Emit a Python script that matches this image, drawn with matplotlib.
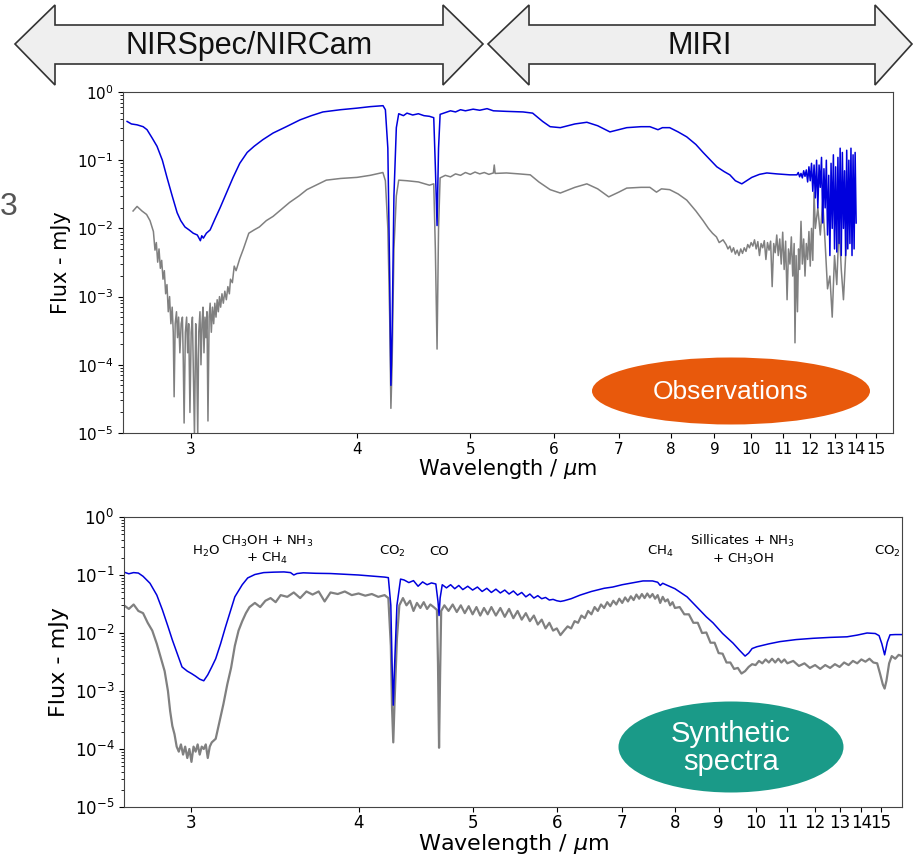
import matplotlib
matplotlib.use("Agg")
import matplotlib.pyplot as plt
import numpy as np
from matplotlib.patches import Polygon, Ellipse
from matplotlib.ticker import FixedLocator, NullLocator

# ---------------- data ----------------
# observations, blue (upper) spectrum
obs_blue_wl = [2.712, 2.73, 2.754, 2.78, 2.797, 2.82, 2.841, 2.865, 2.886, 2.91, 2.933, 2.95,
               2.97, 2.99, 3.01, 3.03, 3.045, 3.052, 3.06, 3.075, 3.094, 3.12, 3.145, 3.18,
               3.214, 3.25, 3.291, 3.33, 3.38, 3.44, 3.52, 3.606, 3.68, 3.757, 3.88, 4.00,
               4.10, 4.201, 4.22, 4.24, 4.255, 4.265, 4.275, 4.29, 4.31, 4.33, 4.37, 4.40,
               4.45, 4.50, 4.55, 4.60, 4.64, 4.655, 4.671, 4.685, 4.70, 4.75, 4.80, 4.85,
               4.90, 4.95, 5.03, 5.10, 5.18, 5.25, 5.40, 5.60, 5.72, 5.85, 5.95, 6.09,
               6.30, 6.48, 6.65, 6.85, 7.00, 7.14, 7.40, 7.57, 7.73, 7.82, 7.97, 8.15,
               8.34, 8.55, 8.72, 8.90, 9.06, 9.25, 9.40, 9.55, 9.73, 9.87, 10.02, 10.25,
               10.48, 10.8, 11.25, 11.50, 11.55, 11.60, 11.65, 11.70, 11.75, 11.80, 11.85,
               11.90, 11.95, 12.00, 12.05, 12.10, 12.15, 12.20, 12.25, 12.30, 12.35, 12.40,
               12.45, 12.50, 12.55, 12.60, 12.65, 12.70, 12.75, 12.80, 12.85, 12.90, 12.95,
               13.00, 13.05, 13.10, 13.15, 13.20, 13.25, 13.30, 13.35, 13.40, 13.45, 13.50,
               13.55, 13.60, 13.65, 13.70, 13.75, 13.80, 13.85, 13.90, 13.95, 14.00]
obs_blue_fx = [0.37, 0.34, 0.33, 0.31, 0.28, 0.21, 0.16, 0.10, 0.056, 0.030, 0.017, 0.013,
               0.0105, 0.0095, 0.0085, 0.0080, 0.0066, 0.0078, 0.0072, 0.0085, 0.0095, 0.014, 0.020, 0.034,
               0.056, 0.090, 0.13, 0.16, 0.20, 0.25, 0.31, 0.39, 0.45, 0.51, 0.55, 0.58,
               0.61, 0.63, 0.55, 0.15, 0.002, 5e-5, 0.0003, 0.03, 0.30, 0.48, 0.45, 0.49,
               0.46, 0.48, 0.45, 0.44, 0.42, 0.08, 0.011, 0.15, 0.47, 0.50, 0.53, 0.51,
               0.55, 0.53, 0.56, 0.54, 0.57, 0.53, 0.52, 0.51, 0.49, 0.37, 0.31, 0.30,
               0.34, 0.36, 0.32, 0.26, 0.28, 0.30, 0.31, 0.31, 0.28, 0.30, 0.30, 0.26,
               0.22, 0.17, 0.13, 0.10, 0.080, 0.068, 0.061, 0.050, 0.045, 0.050, 0.056, 0.062,
               0.065, 0.063, 0.061, 0.061, 0.066, 0.057, 0.064, 0.055, 0.070, 0.058, 0.072,
               0.048, 0.080, 0.050, 0.090, 0.035, 0.085, 0.028, 0.10, 0.020, 0.085, 0.040,
               0.11, 0.012, 0.075, 0.020, 0.10, 0.008, 0.060, 0.004, 0.090, 0.010, 0.12,
               0.005, 0.080, 0.0045, 0.11, 0.006, 0.15, 0.004, 0.13, 0.010, 0.070, 0.004,
               0.14, 0.005, 0.10, 0.006, 0.15, 0.004, 0.12, 0.005, 0.13, 0.012]

# observations, grey (lower) spectrum
obs_grey_wl = [2.737, 2.754, 2.775, 2.795, 2.81, 2.825, 2.832, 2.838, 2.844, 2.85, 2.856, 2.862,
               2.868, 2.874, 2.88, 2.886, 2.892, 2.898, 2.904, 2.91, 2.915, 2.919, 2.924, 2.93,
               2.935, 2.94, 2.946, 2.952, 2.958, 2.962, 2.966, 2.972, 2.978, 2.983, 2.988, 2.994,
               3.000, 3.006, 3.011, 3.016, 3.022, 3.027, 3.032, 3.037, 3.043, 3.048, 3.053, 3.058,
               3.063, 3.068, 3.073, 3.078, 3.083, 3.089, 3.094, 3.10, 3.106, 3.112, 3.118, 3.124,
               3.13, 3.136, 3.142, 3.148, 3.155, 3.162, 3.17, 3.178, 3.186, 3.194, 3.20, 3.21,
               3.22, 3.23, 3.25, 3.27, 3.30, 3.33, 3.36, 3.40, 3.44, 3.49, 3.54, 3.60,
               3.65, 3.70, 3.78, 3.88, 4.00, 4.10, 4.20, 4.22, 4.24, 4.255, 4.265, 4.275,
               4.29, 4.31, 4.33, 4.40, 4.50, 4.60, 4.64, 4.655, 4.671, 4.685, 4.70, 4.75,
               4.80, 4.85, 4.90, 4.95, 5.00, 5.05, 5.10, 5.15, 5.20, 5.25, 5.26, 5.27,
               5.40, 5.55, 5.69, 5.80, 5.95, 6.09, 6.30, 6.48, 6.65, 6.83, 7.00, 7.14,
               7.40, 7.57, 7.70, 7.80, 7.97, 8.15, 8.34, 8.55, 8.72, 8.85, 8.95, 9.05,
               9.12, 9.22, 9.30, 9.35, 9.40, 9.45, 9.50, 9.55, 9.60, 9.65, 9.70, 9.75,
               9.80, 9.85, 9.90, 9.95, 10.00, 10.05, 10.10, 10.15, 10.20, 10.25, 10.30, 10.35,
               10.40, 10.45, 10.50, 10.55, 10.60, 10.65, 10.70, 10.75, 10.80, 10.85, 10.90, 10.95,
               11.00, 11.05, 11.10, 11.15, 11.20, 11.25, 11.30, 11.35, 11.40, 11.43, 11.47, 11.52,
               11.56, 11.60, 11.65, 11.70, 11.75, 11.80, 11.85, 11.90, 11.95, 12.00, 12.05, 12.10,
               12.15, 12.20, 12.30, 12.40, 12.50, 12.60, 12.70, 12.80, 12.90, 13.00, 13.10, 13.20,
               13.30, 13.40, 13.50, 13.60, 13.70]
obs_grey_fx = [0.018, 0.021, 0.018, 0.016, 0.013, 0.0090, 0.0048, 0.0062, 0.0032, 0.0050, 0.0026, 0.0034,
               0.0018, 0.0024, 0.0011, 0.0015, 0.0006, 0.0010, 0.0004, 0.0007, 0.0003, 3.4e-5, 0.0004, 0.0006,
               0.00025, 0.0005, 0.00015, 0.0004, 0.0005, 0.00012, 1.4e-5, 0.0003, 0.0005, 0.00015, 0.0004, 2e-5,
               0.0003, 0.0005, 6e-5, 9e-6, 0.0004, 0.00012, 9e-6, 0.0003, 0.0006, 0.0001, 0.0004, 0.0007,
               0.00015, 0.0005, 0.00025, 0.0006, 1.5e-5, 0.0005, 0.0008, 0.0003, 0.0007, 0.0004, 0.0008, 0.0005,
               0.0009, 0.0006, 0.0010, 0.0007, 0.0011, 0.0008, 0.0012, 0.0009, 0.0014, 0.0011, 0.0018, 0.0016,
               0.0028, 0.0024, 0.0036, 0.0050, 0.0085, 0.0095, 0.0105, 0.013, 0.015, 0.019, 0.024, 0.030,
               0.037, 0.042, 0.051, 0.054, 0.056, 0.060, 0.066, 0.050, 0.010, 0.0005, 2.3e-5, 0.0001,
               0.005, 0.030, 0.051, 0.050, 0.048, 0.043, 0.045, 0.005, 1.7e-4, 0.010, 0.055, 0.060,
               0.057, 0.063, 0.060, 0.066, 0.062, 0.067, 0.063, 0.066, 0.062, 0.065, 0.085, 0.064,
               0.065, 0.063, 0.061, 0.048, 0.037, 0.033, 0.040, 0.045, 0.038, 0.029, 0.034, 0.039,
               0.040, 0.040, 0.034, 0.038, 0.037, 0.032, 0.026, 0.018, 0.013, 0.010, 0.0085, 0.0075,
               0.0062, 0.0068, 0.0058, 0.0050, 0.0055, 0.0045, 0.0052, 0.0042, 0.0048, 0.0040, 0.0050, 0.0043,
               0.0052, 0.0046, 0.0058, 0.0052, 0.0062, 0.0055, 0.0068, 0.0050, 0.0064, 0.0040, 0.0060, 0.0052,
               0.0066, 0.0035, 0.0062, 0.0048, 0.0065, 0.0014, 0.0060, 0.0044, 0.0080, 0.0040, 0.0070, 0.0030,
               0.0088, 0.0025, 0.0065, 0.0009, 0.0050, 0.0030, 0.0075, 0.0020, 0.0060, 0.00021, 0.0040, 0.0006,
               0.0050, 0.0025, 0.0127, 0.0030, 0.0070, 0.0020, 0.0060, 0.0035, 0.0090, 0.0028, 0.0100, 0.0034,
               0.034, 0.010, 0.020, 0.008, 0.025, 0.006, 0.0013, 0.0020, 0.0005, 0.004, 0.0015, 0.012,
               0.0025, 0.0009, 0.004, 0.012, 0.013]

# synthetic, blue (upper) spectrum
syn_blue_wl = [2.70, 2.72, 2.74, 2.76, 2.78, 2.81, 2.84, 2.865, 2.89, 2.91, 2.935, 2.955,
               2.98, 3.00, 3.02, 3.04, 3.06, 3.08, 3.10, 3.12, 3.145, 3.17, 3.20, 3.22,
               3.26, 3.29, 3.33, 3.38, 3.44, 3.50, 3.54, 3.56, 3.58, 3.62, 3.70, 3.80,
               3.90, 4.00, 4.10, 4.20, 4.23, 4.25, 4.26, 4.27, 4.28, 4.30, 4.33, 4.36,
               4.40, 4.44, 4.48, 4.52, 4.56, 4.60, 4.64, 4.66, 4.67, 4.68, 4.70, 4.74,
               4.78, 4.82, 4.86, 4.90, 4.95, 5.00, 5.05, 5.10, 5.15, 5.20, 5.25, 5.30,
               5.35, 5.40, 5.45, 5.50, 5.55, 5.60, 5.65, 5.70, 5.75, 5.80, 5.85, 5.90,
               5.95, 6.00, 6.05, 6.10, 6.20, 6.33, 6.50, 6.70, 6.84, 7.00, 7.20, 7.37,
               7.55, 7.65, 7.70, 7.75, 7.83, 8.00, 8.26, 8.50, 8.70, 8.86, 9.10, 9.37,
               9.55, 9.70, 9.80, 9.90, 10.04, 10.40, 10.75, 11.30, 11.92, 12.60, 13.33, 13.80,
               14.28, 14.70, 14.90, 15.05, 15.20, 15.35, 15.50, 15.80, 16.20]
syn_blue_fx = [0.112, 0.105, 0.110, 0.108, 0.095, 0.072, 0.045, 0.025, 0.013, 0.0076, 0.0042, 0.0026,
               0.0022, 0.0020, 0.0018, 0.0016, 0.0015, 0.0019, 0.0026, 0.0036, 0.0065, 0.0125, 0.026, 0.042,
               0.068, 0.089, 0.102, 0.110, 0.112, 0.113, 0.110, 0.100, 0.106, 0.109, 0.107, 0.106,
               0.103, 0.100, 0.096, 0.092, 0.090, 0.03, 0.003, 0.00057, 0.0025, 0.03, 0.085, 0.082,
               0.074, 0.080, 0.064, 0.076, 0.068, 0.073, 0.070, 0.035, 0.020, 0.040, 0.068, 0.060,
               0.068, 0.058, 0.066, 0.056, 0.064, 0.055, 0.062, 0.052, 0.059, 0.050, 0.057, 0.049,
               0.055, 0.047, 0.053, 0.045, 0.050, 0.042, 0.047, 0.040, 0.044, 0.039, 0.041, 0.037,
               0.038, 0.036, 0.035, 0.036, 0.039, 0.045, 0.052, 0.059, 0.062, 0.068, 0.074, 0.079,
               0.079, 0.075, 0.066, 0.072, 0.067, 0.058, 0.042, 0.027, 0.019, 0.015, 0.0098, 0.0067,
               0.0050, 0.0040, 0.0045, 0.0054, 0.0058, 0.0065, 0.0071, 0.0077, 0.0081, 0.0084, 0.0086, 0.0092,
               0.0100, 0.0098, 0.0090, 0.0065, 0.0042, 0.0070, 0.0093, 0.0094, 0.0094]

# synthetic, grey (lower) spectrum
syn_grey_wl = [2.70, 2.72, 2.74, 2.76, 2.78, 2.80, 2.82, 2.84, 2.86, 2.875, 2.89, 2.90,
               2.91, 2.92, 2.93, 2.94, 2.95, 2.96, 2.97, 2.98, 2.99, 3.00, 3.01, 3.02,
               3.03, 3.04, 3.05, 3.06, 3.07, 3.08, 3.09, 3.10, 3.12, 3.14, 3.16, 3.18,
               3.20, 3.22, 3.24, 3.26, 3.28, 3.30, 3.33, 3.36, 3.39, 3.42, 3.45, 3.48,
               3.52, 3.56, 3.60, 3.64, 3.68, 3.72, 3.76, 3.80, 3.85, 3.90, 3.95, 4.00,
               4.05, 4.10, 4.15, 4.20, 4.23, 4.25, 4.26, 4.27, 4.28, 4.30, 4.32, 4.35,
               4.38, 4.41, 4.44, 4.47, 4.50, 4.53, 4.56, 4.59, 4.62, 4.65, 4.66, 4.67,
               4.68, 4.69, 4.72, 4.76, 4.80, 4.84, 4.88, 4.92, 4.96, 5.00, 5.04, 5.08,
               5.12, 5.16, 5.20, 5.25, 5.30, 5.35, 5.40, 5.45, 5.50, 5.55, 5.60, 5.65,
               5.70, 5.75, 5.80, 5.85, 5.90, 5.95, 6.00, 6.05, 6.10, 6.15, 6.20, 6.25,
               6.30, 6.35, 6.40, 6.45, 6.50, 6.55, 6.60, 6.65, 6.70, 6.75, 6.80, 6.85,
               6.90, 6.95, 7.00, 7.05, 7.10, 7.15, 7.20, 7.25, 7.30, 7.35, 7.40, 7.45,
               7.50, 7.55, 7.60, 7.65, 7.70, 7.75, 7.80, 7.85, 7.90, 7.95, 8.00, 8.10,
               8.20, 8.30, 8.40, 8.50, 8.60, 8.70, 8.80, 8.90, 9.00, 9.10, 9.20, 9.30,
               9.40, 9.50, 9.60, 9.70, 9.80, 9.90, 10.00, 10.10, 10.20, 10.30, 10.40, 10.50,
               10.60, 10.70, 10.80, 10.90, 11.00, 11.20, 11.40, 11.60, 11.80, 12.00, 12.20, 12.40,
               12.60, 12.80, 13.00, 13.20, 13.40, 13.60, 13.80, 14.00, 14.20, 14.40, 14.60, 14.80,
               14.95, 15.10, 15.20, 15.30, 15.45, 15.60, 15.80, 16.00, 16.20]
syn_grey_fx = [0.030, 0.026, 0.031, 0.024, 0.022, 0.015, 0.011, 0.0065, 0.0035, 0.0022, 0.0010, 0.00045,
               0.00025, 0.00018, 0.00011, 0.00009, 0.00012, 0.00008, 0.00011, 0.00007, 0.00010, 0.00006, 0.00011, 0.00009,
               0.00012, 0.00008, 0.00011, 0.00010, 0.00012, 0.00007, 0.00011, 0.00013, 0.00015, 0.00030, 0.00060, 0.0013,
               0.0025, 0.0060, 0.011, 0.016, 0.022, 0.028, 0.033, 0.028, 0.036, 0.040, 0.034, 0.045,
               0.042, 0.050, 0.040, 0.052, 0.046, 0.052, 0.035, 0.050, 0.047, 0.052, 0.045, 0.048,
               0.044, 0.047, 0.042, 0.045, 0.040, 0.006, 0.0005, 0.00013, 0.0006, 0.008, 0.030, 0.040,
               0.030, 0.036, 0.024, 0.033, 0.027, 0.034, 0.026, 0.031, 0.028, 0.025, 0.003, 0.000105,
               0.002, 0.024, 0.030, 0.024, 0.031, 0.023, 0.030, 0.022, 0.029, 0.021, 0.028, 0.020,
               0.027, 0.021, 0.028, 0.020, 0.027, 0.019, 0.026, 0.018, 0.024, 0.017, 0.022, 0.016,
               0.020, 0.014, 0.017, 0.012, 0.015, 0.011, 0.012, 0.0092, 0.011, 0.013, 0.012, 0.016,
               0.015, 0.020, 0.018, 0.024, 0.021, 0.028, 0.024, 0.031, 0.027, 0.034, 0.029, 0.036,
               0.031, 0.039, 0.033, 0.041, 0.035, 0.043, 0.037, 0.046, 0.039, 0.047, 0.040, 0.048,
               0.041, 0.047, 0.039, 0.045, 0.033, 0.042, 0.035, 0.038, 0.030, 0.034, 0.027, 0.028,
               0.021, 0.021, 0.015, 0.015, 0.010, 0.0102, 0.0068, 0.0068, 0.0045, 0.0044, 0.0031, 0.0031,
               0.0024, 0.0025, 0.0020, 0.0022, 0.0026, 0.0029, 0.0028, 0.0033, 0.0030, 0.0035, 0.0031, 0.0036,
               0.0031, 0.0036, 0.0031, 0.0035, 0.0030, 0.0033, 0.0027, 0.0030, 0.0025, 0.0028, 0.0024, 0.0028,
               0.0025, 0.0029, 0.0026, 0.0031, 0.0028, 0.0033, 0.0030, 0.0035, 0.0032, 0.0036, 0.0031, 0.0030,
               0.0020, 0.0013, 0.0011, 0.0015, 0.0030, 0.0040, 0.0036, 0.0042, 0.0040]

xticks = [3, 4, 5, 6, 7, 8, 9, 10, 11, 12, 13, 14, 15]

bands = ["NIRSpec/NIRCam", "MIRI"]

features = [r"H$_2$O", "CH$_3$OH + NH$_3$\n+ CH$_4$", r"CO$_2$", "CO",
            r"CH$_4$", "Sillicates + NH$_3$\n+ CH$_3$OH", r"CO$_2$"]
feature_wl = [3.07, 3.40, 4.26, 4.675, 7.71, 9.64, 15.34]


# x axis of the original figure is linear in 1/sqrt(wavelength)
def fwd(x):
    x = np.asarray(x, dtype=float)
    return -np.power(np.clip(x, 1e-3, None), -0.5)


def inv(u):
    u = np.asarray(u, dtype=float)
    return np.power(np.clip(-u, 1e-6, None), -2.0)


W, H = 913, 863
fig = plt.figure(figsize=(W / 100, H / 100), dpi=100)


def px(x, y):
    return (x / W, 1 - y / H)


def style_axes(ax, tick_fs, label_fs, xlim, pad):
    ax.set_xscale("function", functions=(fwd, inv))
    ax.set_yscale("log")
    ax.set_xlim(*xlim)
    ax.set_ylim(1e-5, 1)
    ax.xaxis.set_major_locator(FixedLocator(xticks))
    ax.set_xticklabels([str(t) for t in xticks])
    ax.xaxis.set_minor_locator(NullLocator())
    ax.tick_params(labelsize=tick_fs)
    ax.tick_params(axis="x", pad=pad)
    ax.set_xlabel(r"Wavelength / $\mu$m", fontsize=label_fs, labelpad=0)
    ax.set_ylabel("Flux - mJy", fontsize=label_fs, labelpad=4)
    for s in ax.spines.values():
        s.set_color("#444444")


# top panel: observations
ax1 = fig.add_axes([123 / W, 1 - 433 / H, 770 / W, 341 / H])
ax1.plot(obs_grey_wl, obs_grey_fx, color="grey", lw=1.1)
ax1.plot(obs_blue_wl, obs_blue_fx, color="#0000dd", lw=1.1)
style_axes(ax1, 11, 15, (2.695, 15.99), 3)

# bottom panel: synthetic spectra
ax2 = fig.add_axes([124 / W, 1 - 807 / H, 778 / W, 290 / H])
ax2.plot(syn_grey_wl, syn_grey_fx, color="grey", lw=1.6)
ax2.plot(syn_blue_wl, syn_blue_fx, color="#0000dd", lw=1.1)
style_axes(ax2, 12, 16, (2.70, 16.2), 1.5)

for name, wl in zip(features, feature_wl):
    y = 0.27 if "\n" in name else 0.25
    ax2.text(wl, y, name, ha="center", va="center", fontsize=9.5,
             linespacing=1.25, clip_on=True)

# instrument arrows on top
arrow_l = [(15, 44), (55, 5), (55, 25), (443, 25), (443, 5), (483, 44),
           (443, 85), (443, 64), (55, 64), (55, 85)]
arrow_r = [(488, 44), (529, 5), (529, 25), (875, 25), (875, 5), (912, 44),
           (875, 85), (875, 64), (529, 64), (529, 85)]
for verts, name, cx in [(arrow_l, bands[0], 249), (arrow_r, bands[1], 700)]:
    poly = Polygon([px(*v) for v in verts], closed=True, transform=fig.transFigure,
                   facecolor="#efefef", edgecolor="#333333", lw=1.2)
    fig.patches.append(poly)
    fig.text(*px(cx, 46), name, ha="center", va="center", fontsize=22,
             family="Liberation Sans", color="#111111")

fig.text(*px(0, 207), "3", ha="left", va="center", fontsize=23,
         family="Liberation Sans", color="#555555")

# labels in ellipses
e1 = Ellipse(px(731, 391), 278 / W, 67 / H, transform=fig.transFigure,
             facecolor="#e8590c", edgecolor="none")
fig.patches.append(e1)
fig.text(*px(731, 392), "Observations", ha="center", va="center", fontsize=19,
         family="Liberation Sans", color="white")

e2 = Ellipse(px(731, 747), 225 / W, 91 / H, transform=fig.transFigure,
             facecolor="#1a9a88", edgecolor="none")
fig.patches.append(e2)
fig.text(*px(731, 748), "Synthetic\nspectra", ha="center", va="center", fontsize=21,
         family="Liberation Sans", color="white", linespacing=1.0)

fig.savefig("out.png", dpi=100)
